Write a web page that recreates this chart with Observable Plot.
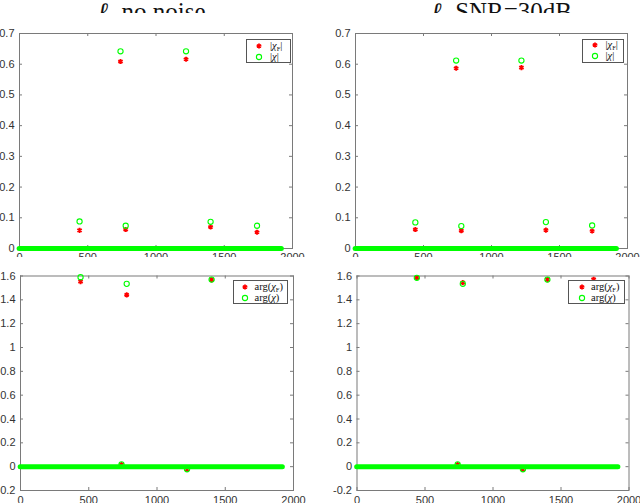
<!DOCTYPE html>
<html><head><meta charset="utf-8">
<script src="https://cdn.jsdelivr.net/npm/d3@7"></script>
<script src="https://cdn.jsdelivr.net/npm/@observablehq/plot@0.6"></script>
<style>
body{margin:0;background:#fff}
#fig{position:relative;width:640px;height:503px;overflow:hidden;background:#fff}
.panel{position:absolute}
.panel svg{display:block}
.title{position:absolute;top:0;height:13px;overflow:hidden;left:0;width:640px}
.title span{position:absolute;top:0;transform:translateX(-50%);font-family:"Liberation Serif",serif;font-size:25px;line-height:24px;white-space:nowrap;color:#111}
.title sub{font-size:15px;vertical-align:baseline;position:relative;top:4px}
.legend{position:absolute;border:1px solid #555;background:#fff;font-family:"Liberation Serif",serif;font-size:10.5px;color:#111;box-sizing:border-box}
.legend .row{position:absolute;left:0;right:0;height:10.5px;line-height:10.5px;white-space:nowrap}
.legend svg{position:absolute;top:0}
.legend .txt{position:absolute;top:0}
.legend sub{font-size:6.5px;vertical-align:baseline;position:relative;top:2px}
.legend i{font-style:italic}
</style>
</head><body>
<div id="fig"></div>
<script>
// ---- data ----
const panelTitles = ["no noise", "SNR=30dB"];
const xTicks = [0, 500, 1000, 1500, 2000];
const magTicks = [0, 0.1, 0.2, 0.3, 0.4, 0.5, 0.6, 0.7];
const phaseTicks = [-0.2, 0, 0.2, 0.4, 0.6, 0.8, 1, 1.2, 1.4, 1.6];
const spikeIdx = [440, 740, 778, 1220, 1400, 1740];
const magEstNoNoise  = [0.059, 0.609, 0.062, 0.616, 0.070, 0.053];
const magTrueNoNoise = [0.088, 0.642, 0.074, 0.642, 0.087, 0.074];
const magEst30dB     = [0.062, 0.587, 0.058, 0.589, 0.060, 0.057];
const magTrue30dB    = [0.085, 0.612, 0.073, 0.612, 0.086, 0.075];
const phaseEstNoNoise  = [1.553, 0.018, 1.442, -0.024, 1.568, 1.45];
const phaseTrueNoNoise = [1.590, 0.020, 1.534, -0.022, 1.570, 1.50];
const phaseEst30dB     = [1.585, 0.018, 1.545, -0.024, 1.570, 1.572];
const phaseTrue30dB    = [1.585, 0.020, 1.534, -0.022, 1.570, 1.50];
const zeroRange = [{start: 1, end: 1922}]; // all other indices are exactly 0

const RED = "#ff0000", GREEN = "#00ff00";
const fig = document.getElementById("fig");

function pts(vals) { return spikeIdx.map((x, i) => ({x, y: vals[i]})); }
const fmt = d => String(Math.round(d * 10) / 10);

function makePanel(o) {
  const ph = o.height - o.mt - o.mb;
  const pw = o.width - o.ml - o.mr;
  const svg = Plot.plot({
    width: o.width, height: o.height,
    marginLeft: o.ml, marginRight: o.mr, marginTop: o.mt, marginBottom: o.mb,
    style: {fontFamily: "'Liberation Sans', Arial, sans-serif", fontSize: "11px", color: "#333", background: "white", overflow: "visible"},
    x: {domain: [0, 2000], ticks: xTicks, tickSize: 0, tickPadding: o.xpad, label: null, tickFormat: d => String(d)},
    y: {domain: o.yDomain, ticks: o.yTicks, tickSize: 0, tickPadding: 5, label: null, tickFormat: fmt},
    marks: [
      Plot.frame({stroke: "#7a7a7a"}),
      Plot.tickX(xTicks, {x: d => d, insetTop: ph - 3, stroke: "#7a7a7a"}),
      Plot.tickX(xTicks, {x: d => d, insetBottom: ph - 3, stroke: "#7a7a7a"}),
      Plot.tickY(o.yTicks, {y: d => d, insetRight: pw - 3, stroke: "#7a7a7a"}),
      Plot.tickY(o.yTicks, {y: d => d, insetLeft: pw - 3, stroke: "#7a7a7a"}),
      Plot.dot(pts(o.est), {x: "x", y: "y", symbol: "asterisk", r: 2.4, stroke: RED, strokeWidth: 1.8}),
      Plot.ruleY(zeroRange, {x1: "start", x2: "end", y: 0, stroke: GREEN, strokeWidth: 5, strokeLinecap: "round"}),
      Plot.dot(pts(o.tru), {x: "x", y: "y", r: 2.6, stroke: GREEN, strokeWidth: 1.1, fill: "none"})
    ]
  });
  const div = document.createElement("div");
  div.className = "panel";
  div.style.left = o.left + "px";
  div.style.top = o.top + "px";
  div.appendChild(svg);
  fig.appendChild(div);
}

function makeLegend(l) {
  const box = document.createElement("div");
  box.className = "legend";
  Object.assign(box.style, {left: l.x + "px", top: l.y + "px", width: l.w + "px", height: l.h + "px"});
  const rows = [
    {kind: "est", html: l.labels[0]},
    {kind: "tru", html: l.labels[1]}
  ];
  rows.forEach((r, i) => {
    const row = document.createElement("div");
    row.className = "row";
    row.style.top = (i === 0 ? 0.5 : 11.5) + "px";
    const s = d3.create("svg").attr("width", 12).attr("height", 11).style("left", (l.mx - 6) + "px");
    if (r.kind === "est") {
      s.append("path").attr("transform", "translate(6,5)")
        .attr("d", d3.symbol(d3.symbolAsterisk, 18)()).attr("stroke", RED).attr("stroke-width", 1.8).attr("fill", "none");
    } else {
      s.append("circle").attr("cx", 6).attr("cy", 5).attr("r", 2.6).attr("stroke", GREEN).attr("stroke-width", 1.1).attr("fill", "none");
    }
    row.appendChild(s.node());
    const t = document.createElement("span");
    t.className = "txt";
    t.style.left = l.tx + "px";
    t.innerHTML = r.html;
    row.appendChild(t);
    box.appendChild(row);
  });
  fig.appendChild(box);
}

// top row: magnitudes
makePanel({left: 0, top: 0, width: 320, height: 260, ml: 19, mr: 28, mt: 33, mb: 12, xpad: 5,
  yDomain: [0, 0.7], yTicks: magTicks, est: magEstNoNoise, tru: magTrueNoNoise});
makePanel({left: 320, top: 0, width: 320, height: 260, ml: 35, mr: 13, mt: 33, mb: 12, xpad: 5,
  yDomain: [0, 0.7], yTicks: magTicks, est: magEst30dB, tru: magTrue30dB});
// bottom row: phases
makePanel({left: 0, top: 257, width: 320, height: 246, ml: 20, mr: 27, mt: 18.5, mb: 13, xpad: 6,
  yDomain: [-0.2, 1.6], yTicks: phaseTicks, est: phaseEstNoNoise, tru: phaseTrueNoNoise});
makePanel({left: 320, top: 257, width: 320, height: 246, ml: 36.5, mr: 11.5, mt: 18.5, mb: 13, xpad: 6,
  yDomain: [-0.2, 1.6], yTicks: phaseTicks, est: phaseEst30dB, tru: phaseTrue30dB});

// titles (clipped at top as in the reference)
const tdiv = document.createElement("div");
tdiv.className = "title";
[151.5, 501.5].forEach((cx, i) => {
  const s = document.createElement("span");
  s.style.left = cx + "px";
  s.innerHTML = "<i>ℓ</i><sub>1</sub> " + panelTitles[i];
  tdiv.appendChild(s);
});
fig.appendChild(tdiv);

// legends
const magLabels = ["|<i>χ</i><sub>F</sub>|", "|<i>χ</i>|"];
const phaseLabels = ["arg(<i>χ</i><sub>F</sub>)", "arg(<i>χ</i>)"];
makeLegend({x: 246, y: 39, w: 45, h: 24, mx: 11.5, tx: 23, labels: magLabels});
makeLegend({x: 581.5, y: 38.5, w: 42, h: 24, mx: 12, tx: 23, labels: magLabels});
makeLegend({x: 232.5, y: 280, w: 55, h: 24, mx: 11.5, tx: 21, labels: phaseLabels});
makeLegend({x: 568, y: 280, w: 57, h: 24, mx: 12.5, tx: 22, labels: phaseLabels});
</script>
</body></html>
